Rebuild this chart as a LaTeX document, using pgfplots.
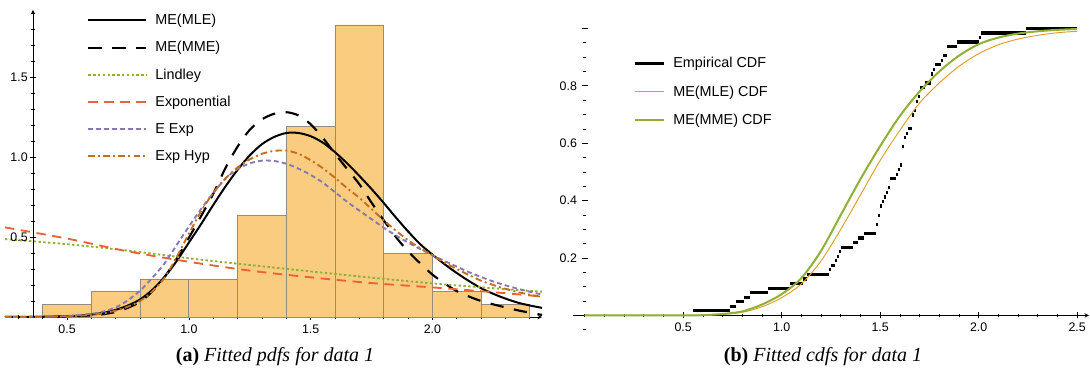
\documentclass[border=0pt]{standalone}
\usepackage{fontspec}
\setmainfont{Liberation Sans}
\newfontfamily\capfont{Liberation Serif}
\usepackage{pgfplots}
\pgfplotsset{compat=1.18}
\definecolor{cLind}{HTML}{8FB032}
\definecolor{cExp}{HTML}{EB6235}
\definecolor{cEExp}{HTML}{8778B3}
\definecolor{cHyp}{HTML}{C56E1A}
\definecolor{cMLEcdf}{HTML}{E19C24}
\definecolor{histfill}{HTML}{FACC80}
\definecolor{histedge}{HTML}{958C80}
\pgfplotsset{
  common/.style={
    scale only axis,
    axis line style={-, line width=0.5pt, black},
    tick style={black, line width=0.5pt},
    major tick length=4.5pt, minor tick length=2.5pt,
    tick align=inside,
    tick label style={font=\fontsize{9.3}{10}\selectfont},
    legend cell align=left,
  },
}
\begin{document}
\begin{tikzpicture}
\path[use as bounding box] (0,0) rectangle (817.5pt,-278.25pt);

% ---------------- left panel: fitted pdfs ----------------
\begin{axis}[common,
  at={(3.75pt,-237.75pt)}, anchor=south west,
  width=402.75pt, height=234pt,
  xmin=0.245, xmax=2.45, ymin=0, ymax=1.95,
  axis x line=bottom, axis y line=none,
  xtick={0.5,1,1.5,2}, xticklabels={0.5,1.0,1.5,2.0},
  minor xtick={0.3,0.4,0.6,0.7,0.8,0.9,1.1,1.2,1.3,1.4,1.6,1.7,1.8,1.9,2.1,2.2,2.3,2.4},
  legend image code/.code={\draw[#1] (0pt,0pt) -- (43.5pt,0pt);},
  legend style={at={(0.1527,0.995)}, anchor=north west, draw=none, fill=none,
    inner sep=0pt, row sep=0pt, column sep=6pt,
    nodes={inner sep=0pt, minimum height=20.4pt, font=\fontsize{10.8}{13}\selectfont}},
]
\addplot[ybar interval, fill=histfill, draw=histedge, line width=0.6pt, forget plot] coordinates {
(0.4,0.0794) (0.6,0.1587) (0.8,0.2381) (1.0,0.2381) (1.2,0.6349) (1.4,1.1905)
(1.6,1.8254) (1.8,0.3968) (2.0,0.1587) (2.2,0.0794) (2.4,0.0794)};

\addplot[black, line width=1.5pt, smooth] coordinates {
(0.245,0) (0.3,0.0005) (0.4,0.0015) (0.5,0.005) (0.55,0.009) (0.6,0.015) (0.65,0.027)
(0.7,0.045) (0.75,0.072) (0.8,0.11) (0.85,0.17) (0.9,0.25) (0.95,0.35) (1.0,0.465)
(1.05,0.58) (1.1,0.70) (1.15,0.815) (1.2,0.92) (1.25,1.01) (1.3,1.08) (1.35,1.125)
(1.4,1.15) (1.45,1.15) (1.5,1.13) (1.55,1.09) (1.6,1.03) (1.65,0.96) (1.7,0.882)
(1.75,0.8) (1.8,0.713) (1.85,0.622) (1.9,0.535) (1.95,0.455) (2.0,0.39) (2.05,0.33)
(2.1,0.275) (2.15,0.225) (2.2,0.18) (2.25,0.145) (2.3,0.115) (2.35,0.09) (2.4,0.072) (2.45,0.057)};
\addlegendentry{ME(MLE)}

\addplot[black, line width=1.6pt, dash pattern=on 10pt off 8pt, smooth] coordinates {
(0.245,0) (0.4,0.001) (0.5,0.003) (0.6,0.01) (0.65,0.018) (0.7,0.032) (0.75,0.058)
(0.8,0.095) (0.85,0.16) (0.9,0.25) (0.95,0.365) (1.0,0.495) (1.05,0.63) (1.1,0.77)
(1.15,0.93) (1.2,1.065) (1.25,1.17) (1.3,1.235) (1.35,1.27) (1.4,1.28) (1.45,1.26)
(1.5,1.205) (1.55,1.12) (1.6,1.02) (1.65,0.925) (1.7,0.83) (1.75,0.715) (1.8,0.605)
(1.85,0.5) (1.9,0.41) (1.95,0.335) (2.0,0.265) (2.05,0.21) (2.1,0.162) (2.15,0.128)
(2.2,0.1) (2.25,0.079) (2.3,0.06) (2.35,0.042) (2.4,0.027) (2.45,0.013)};
\addlegendentry{ME(MME)}

\addplot[cLind, line width=1.4pt, dash pattern=on 1.8pt off 1.8pt, smooth] coordinates {
(0.245,0.487) (0.5,0.455) (0.75,0.415) (1.0,0.367) (1.25,0.325) (1.5,0.285)
(1.75,0.246) (2.0,0.21) (2.25,0.18) (2.45,0.158)};
\addlegendentry{Lindley}

\addplot[cExp, line width=1.4pt, dash pattern=on 7pt off 5pt, smooth] coordinates {
(0.245,0.56) (0.5,0.49) (0.75,0.41) (1.0,0.345) (1.25,0.29) (1.5,0.248)
(1.75,0.212) (2.0,0.185) (2.25,0.155) (2.45,0.128)};
\addlegendentry{Exponential}

\addplot[cEExp, line width=1.4pt, dash pattern=on 3.6pt off 2.4pt, smooth] coordinates {
(0.245,0) (0.4,0.002) (0.5,0.006) (0.6,0.02) (0.65,0.035) (0.7,0.06) (0.75,0.105)
(0.8,0.165) (0.85,0.245) (0.9,0.335) (0.95,0.45) (1.0,0.565) (1.05,0.675) (1.1,0.775)
(1.15,0.865) (1.2,0.925) (1.25,0.96) (1.3,0.977) (1.35,0.975) (1.4,0.958) (1.45,0.927)
(1.5,0.888) (1.55,0.84) (1.6,0.78) (1.65,0.72) (1.7,0.665) (1.75,0.612) (1.8,0.558)
(1.85,0.51) (1.9,0.465) (1.95,0.425) (2.0,0.387) (2.05,0.35) (2.1,0.315) (2.15,0.28)
(2.2,0.25) (2.25,0.222) (2.3,0.198) (2.35,0.177) (2.4,0.158) (2.45,0.14)};
\addlegendentry{E Exp}

\addplot[cHyp, line width=1.4pt, dash pattern=on 5pt off 2.4pt on 1.5pt off 2.4pt, smooth] coordinates {
(0.245,0) (0.4,0.001) (0.5,0.004) (0.6,0.013) (0.65,0.023) (0.7,0.04) (0.75,0.065)
(0.8,0.1) (0.85,0.16) (0.9,0.245) (0.95,0.375) (1.0,0.52) (1.05,0.66) (1.1,0.775)
(1.15,0.865) (1.2,0.935) (1.25,0.985) (1.3,1.02) (1.35,1.038) (1.4,1.04) (1.45,1.02)
(1.5,0.98) (1.55,0.93) (1.6,0.87) (1.65,0.805) (1.7,0.745) (1.75,0.675) (1.8,0.605)
(1.85,0.54) (1.9,0.48) (1.95,0.43) (2.0,0.385) (2.05,0.34) (2.1,0.30) (2.15,0.262)
(2.2,0.227) (2.25,0.2) (2.3,0.176) (2.35,0.156) (2.4,0.14) (2.45,0.125)};
\addlegendentry{Exp Hyp}
\end{axis}

% left panel y axis (crosses x axis at x = 0.36)
\begin{axis}[common,
  at={(24.75pt,-237.75pt)}, anchor=south west,
  width=20pt, height=230.4pt,
  xmin=0, xmax=1, ymin=0, ymax=1.92,
  axis x line=none, axis y line=left,
  ytick={0.5,1,1.5}, yticklabels={0.5,1.0,1.5},
  minor ytick={0.1,0.2,0.3,0.4,0.6,0.7,0.8,0.9,1.1,1.2,1.3,1.4,1.6,1.7,1.8,1.9},
  yticklabel style={inner sep=1.5pt},
]
\addplot[draw=none] coordinates {(0,0)};
\end{axis}

% ---------------- right panel: fitted cdfs ----------------
\begin{axis}[common,
  at={(429.75pt,-249.5pt)}, anchor=south west,
  width=387pt, height=236.8pt,
  xmin=-0.059, xmax=2.56, ymin=-0.06, ymax=1.04,
  axis lines=middle, y axis line style={draw=none},
  xtick={0.5,1,1.5,2,2.5}, xticklabels={0.5,1.0,1.5,2.0,2.5},
  minor xtick={0,0.1,0.2,0.3,0.4,0.6,0.7,0.8,0.9,1.1,1.2,1.3,1.4,1.6,1.7,1.8,1.9,2.1,2.2,2.3,2.4},
  ytick={0.2,0.4,0.6,0.8,1.0}, yticklabels={0.2,0.4,0.6,0.8,},
  minor ytick={-0.05,0.05,0.1,0.15,0.25,0.3,0.35,0.45,0.5,0.55,0.65,0.7,0.75,0.85,0.9,0.95},
  legend image code/.code={\draw[#1] (0pt,0pt) -- (21.75pt,0pt);},
  legend style={at={(0.116,0.898)}, anchor=north west, draw=none, fill=none,
    inner sep=0pt, row sep=0pt, column sep=6pt,
    nodes={inner sep=0pt, minimum height=21.2pt, font=\fontsize{10.8}{13}\selectfont}},
]
\addplot[black, line width=2.4pt, jump mark left] coordinates {
(0.55,0.0159) (0.74,0.0317) (0.77,0.0476) (0.81,0.0635) (0.84,0.0794) (0.93,0.0952)
(1.04,0.1111) (1.11,0.1270) (1.13,0.1429) (1.24,0.1587) (1.25,0.1746) (1.27,0.1905)
(1.28,0.2063) (1.29,0.2222) (1.30,0.2381) (1.36,0.2540) (1.39,0.2698) (1.42,0.2857)
(1.48,0.3175) (1.49,0.3492) (1.50,0.3810) (1.51,0.3968) (1.52,0.4127) (1.53,0.4286)
(1.54,0.4444) (1.55,0.4762) (1.58,0.4921) (1.59,0.5079) (1.60,0.5238) (1.61,0.5873)
(1.62,0.6190) (1.63,0.6349) (1.64,0.6508) (1.66,0.6984) (1.67,0.7143) (1.68,0.7460)
(1.69,0.7619) (1.70,0.7937) (1.73,0.8095) (1.76,0.8413) (1.77,0.8571) (1.78,0.8730)
(1.81,0.8889) (1.82,0.9048) (1.84,0.9365) (1.89,0.9524) (2.00,0.9683) (2.01,0.9841)
(2.24,1.0000) (2.50,1.0000)};
\addlegendentry{Empirical CDF}

\addplot[cMLEcdf, line width=0.7pt, smooth] coordinates {
(0,0) (0.5,0) (0.6,0.001) (0.7,0.004) (0.8,0.011) (0.9,0.03) (1.0,0.062) (1.1,0.11)
(1.2,0.19) (1.3,0.3) (1.4,0.42) (1.5,0.54) (1.6,0.645) (1.7,0.74) (1.8,0.81)
(1.9,0.868) (2.0,0.912) (2.1,0.943) (2.2,0.963) (2.3,0.976) (2.4,0.985) (2.5,0.99)};
\addlegendentry{ME(MLE) CDF}

\addplot[cLind, line width=1.5pt, smooth] coordinates {
(0,0) (0.5,0) (0.6,0.001) (0.7,0.005) (0.8,0.014) (0.9,0.038) (1.0,0.074) (1.1,0.13)
(1.2,0.225) (1.3,0.35) (1.4,0.475) (1.5,0.59) (1.6,0.695) (1.7,0.78) (1.8,0.85)
(1.9,0.905) (2.0,0.945) (2.1,0.968) (2.2,0.982) (2.3,0.99) (2.4,0.995) (2.5,0.998)};
\addlegendentry{ME(MME) CDF}
\end{axis}

\node[anchor=base, font=\capfont\fontsize{15}{17}\selectfont] at (206.25pt,-271pt)
  {\textbf{(a)} \textit{Fitted pdfs for data 1}};
\node[anchor=base, font=\capfont\fontsize{15}{17}\selectfont] at (617.25pt,-271pt)
  {\textbf{(b)} \textit{Fitted cdfs for data 1}};
\end{tikzpicture}
\end{document}
